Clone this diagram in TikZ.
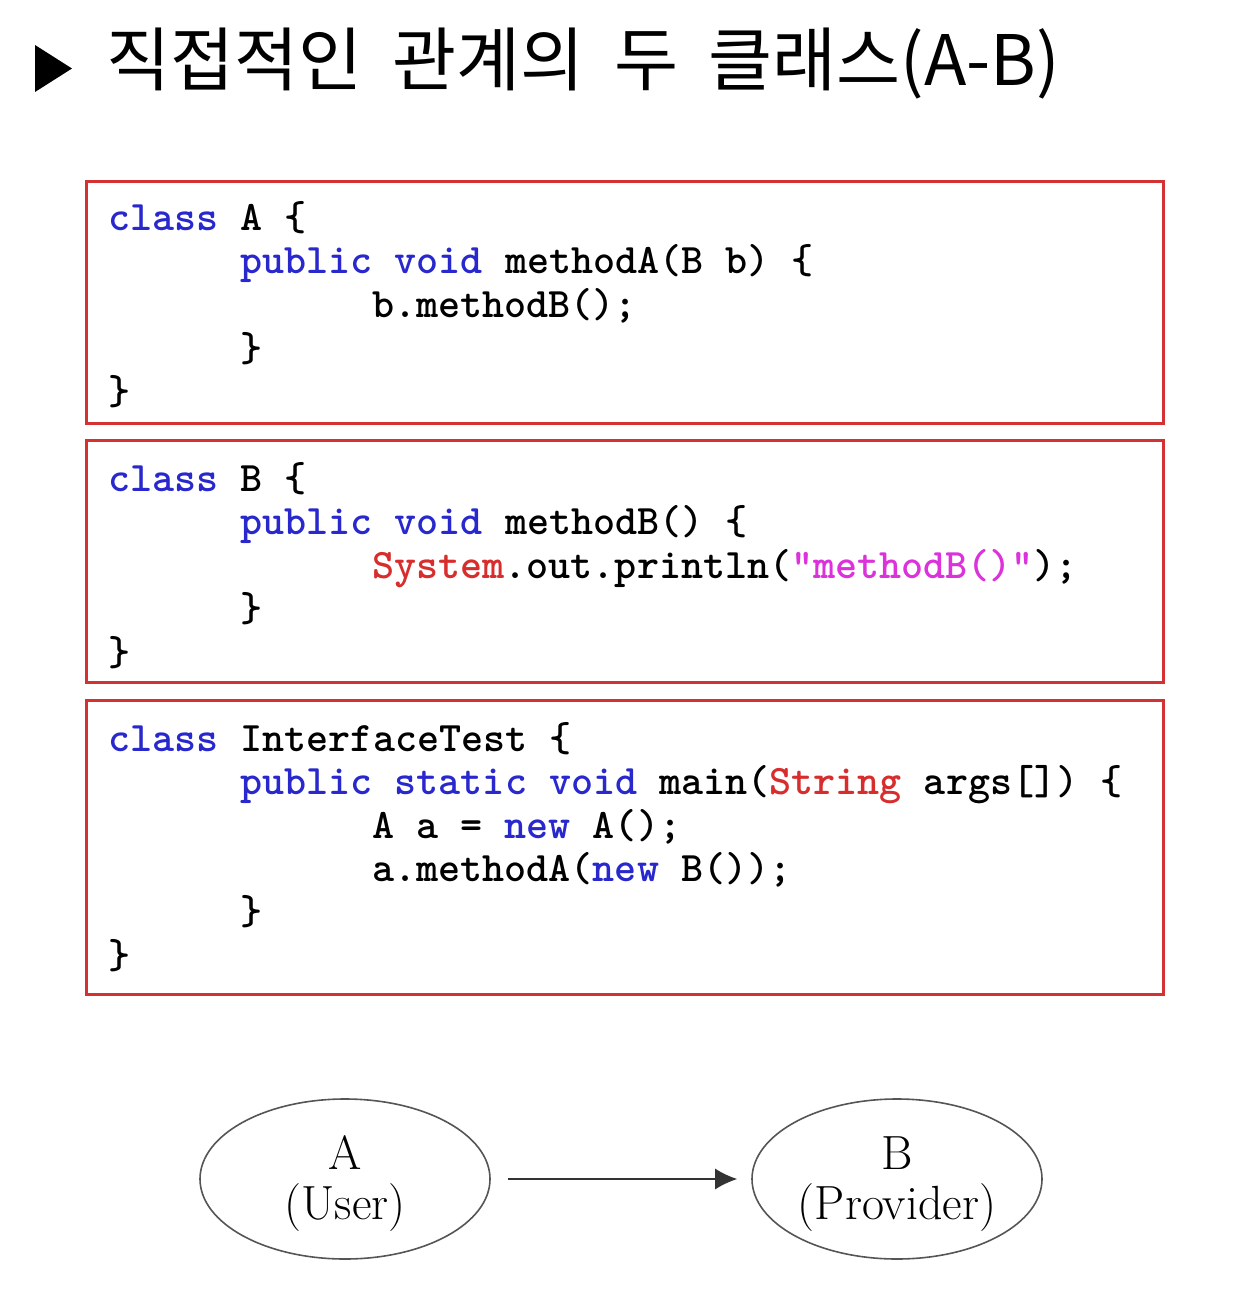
\documentclass[tikz,border=0pt]{standalone}
\usepackage{fontspec}
\usepackage{xcolor}
\usetikzlibrary{arrows.meta,shapes.geometric}
\newfontfamily\krfont{Noto Sans CJK KR}
\definecolor{kwblue}{RGB}{40,40,205}
\definecolor{clsred}{RGB}{215,45,45}
\definecolor{strmag}{RGB}{220,50,220}
\definecolor{boxred}{RGB}{212,50,50}
\definecolor{ellgray}{RGB}{85,85,85}
\newcommand\jkw[1]{\textcolor{kwblue}{#1}}
\newcommand\jcls[1]{\textcolor{clsred}{#1}}
\newcommand\jstr[1]{\textcolor{strmag}{#1}}
\newcommand\tgap{\hspace{15pt}}
\tikzset{
  codebox/.style={draw=boxred, line width=1.5pt, rectangle, minimum width=538.5pt, anchor=north west, inner sep=0pt},
  codeline/.style={anchor=base west, inner sep=0pt, font=\fontsize{21}{25}\selectfont\ttfamily\bfseries},
  bubble/.style={ellipse, draw=ellgray, line width=0.8pt, minimum width=145pt, minimum height=80pt, inner sep=0pt},
  bubbletext/.style={align=center, inner sep=0pt, font=\fontsize{24}{25}\selectfont},
  link/.style={draw=black!80, line width=0.8pt, -{Latex[length=11pt,width=10.5pt]}}
}
\begin{document}
\begin{tikzpicture}[x=0.5pt,y=-0.5pt]
\useasboundingbox (0,0) rectangle (1244,1310);
% title
\fill (35,45) -- (72,68.5) -- (35,92) -- cycle;
\node[anchor=west, inner sep=0pt, font=\krfont\fontsize{34.8}{40}\selectfont] (title) at (106,64)
  {직접적인\tgap 관계의\tgap 두\tgap 클래스(A-B)};
% boxes
\node[codebox, minimum height=121pt] (boxA) at (85,180) {};
\node[codebox, minimum height=121pt] (boxB) at (85,439) {};
\node[codebox, minimum height=147pt] (boxC) at (85,699) {};
% class A
\node[codeline] (a1) at (108,231) {\jkw{class} A \{};
\node[codeline] (a2) at (240,274) {\jkw{public} \jkw{void} methodA(B b) \{};
\node[codeline] (a3) at (372,318) {b.methodB();};
\node[codeline] (a4) at (240,361) {\}};
\node[codeline] (a5) at (108,404) {\}};
% class B
\node[codeline] (b1) at (108,491) {\jkw{class} B \{};
\node[codeline] (b2) at (240,534) {\jkw{public} \jkw{void} methodB() \{};
\node[codeline] (b3) at (372,578) {\jcls{System}.out.println(\jstr{"methodB()"});};
\node[codeline] (b4) at (240,621) {\}};
\node[codeline] (b5) at (108,665) {\}};
% class InterfaceTest
\node[codeline] (c1) at (108,751) {\jkw{class} InterfaceTest \{};
\node[codeline] (c2) at (240,794) {\jkw{public} \jkw{static} \jkw{void} main(\jcls{String} args[]) \{};
\node[codeline] (c3) at (372,838) {A a = \jkw{new} A();};
\node[codeline] (c4) at (372,881) {a.methodA(\jkw{new} B());};
\node[codeline] (c5) at (240,924) {\}};
\node[codeline] (c6) at (108,968) {\}};
% diagram
\node[bubble] (user) at (345,1179) {};
\node[bubble] (prov) at (897,1179) {};
\node[bubbletext] (usertxt) at (345,1184) {A\\(User)};
\node[bubbletext] (provtxt) at (897,1184) {B\\(Provider)};
\draw[link, shorten <=8.5pt, shorten >=7pt] (user) -- (prov);
\end{tikzpicture}
\end{document}
